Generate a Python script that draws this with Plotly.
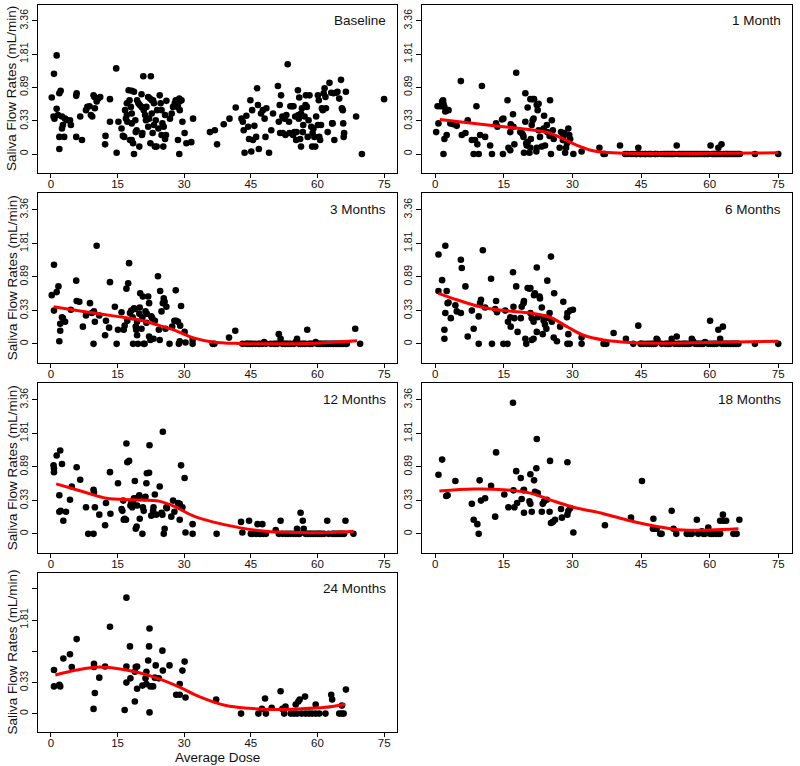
import numpy as np
import plotly.graph_objects as go

# ---------------- data (flow rate in mL/min vs average dose) ----------------
panel_names = ["Baseline", "1 Month", "3 Months", "6 Months", "12 Months", "18 Months", "24 Months"]
dose_ticks = [0, 15, 30, 45, 60, 75]
flow_ticks = [0, 0.33, 0.89, 1.81, 3.36]
flow_labels = ["0", "0.33", "0.89", "1.81", "3.36"]
flow_labels_24 = ["0", "0.33", "", "1.81", ""]

base_x = [0.2,0.7,1.3,0.6,0.8,1.3,1.6,1.9,2.2,1.9,1.9,2.5,2.5,2.7,3.0,3.2,3.7,4.3,4.5,5.7,5.8,5.7,6.6,7.0,7.9,8.2,8.7,9.0,9.3,9.6,9.8,9.9,10.3,10.7,11.1,12.3,12.2,
          13.3,13.3,14.7,14.8,15.2,15.9,16.2,16.5,16.7,16.9,17.1,17.1,17.2,17.5,18.2,18.7,17.7,18.0,18.2,18.2,17.8,18.2,18.5,18.7,19.0,19.1,19.3,19.4,19.7,19.9,20.0,20.4,20.4,20.6,20.5,20.9,21.2,21.4,21.5,20.8,22.5,21.9,22.3,22.7,23.0,23.2,21.9,22.1,22.4,22.7,22.9,23.2,23.4,23.6,23.8,23.9,24.2,24.5,24.7,24.9,24.9,25.1,25.3,25.4,25.7,25.7,25.9,26.0,26.8,27.2,27.5,27.9,28.1,28.3,28.6,28.9,29.0,29.4,29.0,28.6,28.9,29.6,30.1,30.5,31.6,32.0,
          35.8,36.9,37.4,38.9,40.2,41.6,42.9,43.2,43.4,43.6,44.0,44.4,44.6,44.9,45.1,45.3,45.5,45.8,46.2,46.4,46.6,46.8,47.3,47.7,48.1,48.3,48.5,49.1,49.6,50.0,51.1,51.3,51.5,51.6,51.8,52.1,52.2,52.6,52.8,53.0,53.3,53.6,
          53.7,53.9,54.3,54.5,54.6,54.8,55.0,55.2,55.3,55.6,55.7,55.8,55.9,56.1,56.3,56.3,56.5,56.7,56.8,57.1,57.3,57.4,57.6,57.8,58.0,58.2,58.6,58.8,58.9,59.1,59.3,59.5,59.7,60.1,60.1,60.3,60.4,60.6,60.8,61.0,61.2,61.4,61.6,61.8,61.9,62.3,62.7,63.1,63.3,63.4,63.6,63.8,64.2,64.5,64.9,65.3,65.5,65.7,65.8,65.9,66.0,66.4,68.7,70.0,75.0]
base_y = [0.69,1.21,1.77,0.39,0.36,0.50,0.41,0.77,0.82,0.15,0.04,0.39,0.24,0.28,0.15,0.36,0.34,0.34,0.28,0.72,0.77,0.15,0.39,0.12,0.48,0.53,0.54,0.41,0.39,0.73,0.70,0.51,0.62,0.67,0.70,0.16,0.08,
          0.66,0.32,1.36,0.01,0.32,0.24,0.16,0.15,0.48,0.36,0.41,0.59,0.32,0.83,0.82,0.80,0.64,0.53,0.43,0.30,0.12,0.12,0.09,0.00,0.34,0.20,0.22,0.64,0.59,0.06,0.56,0.53,0.75,0.19,0.17,0.48,0.41,0.34,0.53,1.15,1.15,0.70,0.67,0.64,0.64,0.59,0.26,0.36,0.09,0.43,0.19,0.28,0.06,0.34,0.06,0.48,0.24,0.73,0.59,0.48,0.17,0.30,0.06,0.26,0.41,0.13,0.17,0.63,0.36,0.43,0.53,0.59,0.64,0.54,0.53,0.67,0.62,0.64,0.48,0.12,0.00,0.32,0.19,0.09,0.10,0.36,
          0.20,0.22,0.08,0.29,0.36,0.52,0.36,0.32,0.22,0.01,0.40,0.26,0.13,0.64,0.02,0.48,0.12,0.27,0.15,0.87,0.56,0.04,0.43,0.48,0.36,0.15,0.51,0.01,0.22,0.43,0.92,0.32,0.56,0.19,0.73,0.39,0.19,0.36,0.17,0.41,1.48,0.32,
          0.19,0.54,0.54,0.17,0.54,0.20,0.39,0.12,0.20,0.83,0.41,0.36,0.69,0.13,0.43,0.06,0.51,0.20,0.28,0.39,0.56,0.73,0.53,0.15,0.34,0.73,0.26,0.06,0.19,0.24,0.15,0.06,0.39,0.73,0.28,0.64,0.15,0.12,0.28,0.51,0.48,0.77,0.87,0.70,0.51,0.20,0.99,0.78,0.30,0.30,0.77,0.12,0.78,0.80,0.67,1.06,0.51,0.48,0.30,0.15,0.19,0.80,0.39,0.00,0.66]

m1_x = [0.2,0.7,0.5,1.1,1.5,1.7,1.8,2.0,2.2,2.5,2.9,1.8,2.0,2.5,3.3,4.0,4.7,5.6,5.8,6.6,7.1,8.0,8.7,8.4,9.5,9.0,9.2,9.8,10.2,10.9,12.0,12.4,13.3,13.6,14.6,14.9,14.8,15.8,16.0,16.4,16.4,16.5,17.0,17.1,17.3,17.7,18.6,18.9,19.2,19.3,19.4,19.7,19.7,19.9,20.0,20.2,20.2,20.6,20.8,20.8,21.3,21.6,20.9,21.1,21.3,21.5,22.1,22.2,22.2,22.4,22.6,22.6,22.9,23.3,23.7,23.8,24.0,24.4,24.5,25.0,25.1,25.3,25.5,25.7,25.9,27.2,27.5,27.9,28.0,28.2,28.4,28.6,28.8,29.1,29.3,29.5,30.2,32.0,35.9,36.8,37.1,40.4,41.5,
        42.0,42.8,43.3,43.9,44.4,44.8,45.4,45.9,46.6,47.3,48.1,48.6,49.5,50.3,51.0,51.7,52.4,52.8,53.2,53.9,54.6,55.4,56.1,56.8,57.5,58.3,59.0,59.7,60.2,60.8,61.4,61.9,62.4,62.6,63.0,63.7,64.4,65.2,65.9,66.3,69.9,75.0,
        44.0,45.0,46.0,47.0,48.0,50.0,50.7,51.4,52.0,53.5,54.2,55.0,55.8,56.5,57.2,57.9,58.7,59.4,60.5,61.1,61.7,62.2,63.4,64.0,64.8,65.5,66.6]
m1_y = [0.20,0.30,0.54,0.54,0.62,0.64,0.58,0.53,0.46,0.48,0.48,0.00,0.13,0.17,0.30,0.29,0.27,1.03,0.17,0.19,0.34,0.12,0.12,0.00,0.00,0.54,0.08,0.17,0.92,0.15,0.07,0.00,0.30,0.26,0.35,0.36,0.00,0.64,0.05,0.03,0.20,0.29,0.42,0.26,0.08,1.24,0.20,0.19,0.17,0.15,0.01,0.77,0.32,0.09,0.07,0.10,0.52,0.01,0.05,0.66,0.66,0.66,0.13,0.28,0.34,0.36,0.02,0.05,0.56,0.48,0.58,0.22,0.15,0.06,0.24,0.40,0.07,0.28,0.20,0.16,0.64,0.00,0.34,0.22,0.13,0.05,0.20,0.12,0.15,0.19,0.01,0.05,0.09,0.24,0.17,0.13,0.00,0.02,0.05,0.00,0.00,0.07,0.00,
        0,0,0,0,0.05,0,0,0,0,0,0,0,0,0,0,0,0,0.07,0,0,0,0,0,0,0,0,0,0,0.07,0,0,0.05,0,0.08,0,0,0,0,0,0,0,0,
        0,0,0,0,0,0,0,0,0,0,0,0,0,0,0,0,0,0,0,0,0,0,0,0,0,0,0]
m1_fit_x = [1, 10, 15, 20, 25, 28, 31, 34, 37, 42, 50, 60, 70, 75]
m1_fit_y = [0.35, 0.29, 0.26, 0.23, 0.19, 0.13, 0.07, 0.03, 0.013, 0.005, 0.003, 0.005, 0.008, 0.01]

m3_x = [0.2,0.7,0.7,1.3,1.7,1.9,2.1,2.1,2.5,2.7,3.2,4.5,5.7,5.8,6.4,7.2,7.9,8.8,9.2,9.7,9.6,9.9,10.3,10.9,12.2,12.4,13.1,13.3,14.4,14.8,15.1,15.9,16.4,16.6,17.0,17.4,17.2,17.6,17.8,18.1,18.4,18.5,18.7,18.9,19.1,19.2,19.4,19.4,19.6,19.9,20.0,20.1,20.4,20.6,20.7,20.9,21.1,21.3,21.5,21.6,21.9,22.1,22.1,22.4,22.6,22.8,23.1,23.4,24.1,24.3,24.5,24.6,24.9,25.2,25.4,25.6,25.8,26.0,26.7,27.3,27.8,28.1,28.2,28.6,28.8,29.0,29.3,29.1,30.1,30.3,31.9,31.9,36.4,36.8,40.1,41.5,
        43.1,43.9,44.6,45.4,46.7,47.6,48.4,48.0,49.5,50.2,51.0,51.3,51.7,52.1,52.8,53.6,54.0,54.7,55.1,55.4,55.8,56.6,57.3,57.7,58.1,58.8,59.6,59.9,60.3,61.0,61.8,62.5,63.3,64.0,64.8,65.5,66.3,68.5,69.6,
        44.2,45.0,46.0,47.0,50.6,52.5,53.2,56.2,57.0,58.4,60.6,61.4,62.1,62.9,63.6,64.4,65.1,65.9,66.6]
m3_y = [0.55,1.17,0.33,0.60,0.70,0.02,0.11,0.18,0.25,0.24,0.20,0.34,0.81,0.46,0.45,0.15,0.27,0.43,0.30,0.32,0.00,0.20,1.73,0.27,0.07,0.21,0.14,0.78,0.38,0.00,0.12,0.31,0.12,0.16,0.66,0.76,0.21,1.21,0.30,0.33,0.25,0.00,0.36,0.35,0.15,0.12,0.20,0.07,0.00,0.29,0.37,0.58,0.13,0.25,0.53,0.00,0.00,0.32,0.19,0.29,0.53,0.43,0.06,0.03,0.26,0.24,0.04,0.21,0.90,0.12,0.03,0.62,0.32,0.43,0.50,0.45,0.13,0.38,0.00,0.15,0.21,0.63,0.21,0.20,0.00,0.02,0.39,0.16,0.10,0.01,0.03,0.00,0.00,0.00,0.05,0.11,
        0,0,0,0,0,0,0,0.015,0,0,0,0.08,0.04,0,0,0,0,0,0.015,0.04,0,0,0,0.12,0,0,0.015,0,0,0,0,0,0,0,0,0,0,0.13,0,
        0,0,0,0,0,0,0,0,0,0,0,0,0,0,0,0,0,0,0]
m3_fit_x = [0.6, 7.3, 14.8, 20.0, 24.5, 28.2, 31.9, 36.4, 42.4, 48.4, 59.6, 68.9]
m3_fit_y = [0.38, 0.32, 0.26, 0.22, 0.16, 0.11, 0.05, 0.015, 0.003, 0.001, 0.005, 0.024]

m6_x = [0.7,0.7,1.5,2.0,2.0,2.2,2.5,2.2,2.7,2.9,3.4,4.4,4.7,5.6,5.6,5.8,6.6,7.1,8.0,8.4,9.5,9.5,9.8,10.0,10.4,10.9,12.2,12.4,13.1,13.3,13.5,14.9,15.8,15.3,15.9,16.4,16.5,17.0,17.1,17.3,17.7,18.0,18.7,18.9,19.3,19.4,19.7,19.9,20.2,20.6,20.8,20.8,21.1,21.1,21.5,21.5,21.6,21.8,22.2,22.2,22.4,22.8,22.9,23.3,23.5,23.7,23.8,24.0,24.3,24.5,24.8,25.0,25.3,25.5,25.9,26.0,26.6,27.3,28.0,28.8,28.9,28.9,29.4,29.1,29.5,30.1,32.0,32.0,36.8,37.4,39.0,41.7,
        43.3,44.4,44.9,45.5,46.2,47.3,48.1,48.4,48.6,49.5,50.3,51.0,51.7,52.4,52.8,53.5,54.1,54.8,55.7,56.1,56.4,57.2,57.9,58.6,59.0,59.7,60.1,60.2,60.7,61.5,61.9,62.3,62.9,63.0,63.7,64.5,65.2,65.9,69.9,75.0,
        45.0,46.8,47.7,50.7,51.4,53.1,54.5,55.3,56.8,57.6,58.3,61.1,62.6,63.4,64.1,64.9,65.6,66.3]
m6_y = [1.45,0.62,0.82,0.04,0.12,1.73,0.62,0.30,0.43,0.44,0.24,0.40,0.32,0.30,1.30,1.09,0.70,0.06,0.33,0.13,0.00,0.26,0.43,0.48,1.58,0.37,0.85,0.00,0.35,0.46,0.31,0.00,0.00,0.33,0.20,0.25,0.15,0.99,0.38,0.24,0.70,0.10,0.24,0.38,0.43,0.46,0.04,0.00,0.67,0.66,0.67,0.30,0.24,0.03,0.04,0.20,0.55,0.58,1.10,0.10,0.25,0.53,0.50,0.37,0.08,0.21,0.25,0.17,0.13,0.81,0.24,0.30,1.39,0.20,0.05,0.58,0.02,0.15,0.45,0.25,0.30,0.00,0.00,0.08,0.33,0.34,0.05,0.00,0.00,0.00,0.09,0.04,
        0,0.16,0,0,0,0,0,0.04,0.03,0,0,0,0.04,0,0.06,0,0,0,0,0.04,0.02,0,0,0,0.015,0,0.21,0,0,0,0.12,0.04,0.15,0,0,0,0,0,0,0,
        0,0,0,0,0,0,0,0,0,0,0,0,0,0,0,0,0,0]
m6_fit_x = [0.7, 4.7, 9.8, 14.9, 20.8, 25.1, 28.8, 32.4, 36.8, 42.6, 48.4, 59.4, 75.0]
m6_fit_y = [0.58, 0.48, 0.38, 0.33, 0.30, 0.25, 0.15, 0.07, 0.03, 0.01, 0.005, 0.01, 0.02]

m12_x = [0.6,0.7,0.7,1.3,2.1,1.9,1.9,2.2,2.5,2.8,3.4,4.3,4.7,5.8,6.6,7.9,8.4,9.6,9.6,9.7,9.9,10.9,12.2,12.4,13.3,13.4,15.1,15.9,16.1,16.3,16.4,16.6,16.9,17.0,17.2,17.6,17.9,18.1,18.3,18.5,18.7,18.9,19.1,19.3,19.4,19.6,19.9,20.0,20.6,20.7,20.9,21.1,21.3,21.5,21.6,22.1,22.2,22.6,23.0,23.1,23.4,23.7,24.5,24.9,25.1,25.2,25.4,25.6,26.0,26.1,27.1,27.5,27.8,28.6,29.0,29.0,29.3,29.6,30.1,30.3,31.9,31.9,37.3,42.8,43.1,44.6,45.0,45.4,46.5,46.9,47.6,47.8,48.4,50.6,51.7,
         51.3,52.1,52.8,54.0,55.1,55.4,55.8,56.2,56.7,56.9,57.3,58.1,58.8,59.6,60.3,61.0,62.2,62.5,63.3,64.0,64.8,65.5,66.3,68.1,
         46.2,47.2,53.4,54.6,56.0,57.7,58.4,59.2,60.0,60.6,61.5,63.6,64.4,65.2,66.0]
m12_y = [0.92,0.86,0.78,1.15,1.28,0.40,0.20,0.21,0.95,0.11,0.20,0.34,0.53,0.88,0.64,0.25,0.00,0.00,0.48,0.44,0.25,0.17,0.07,0.30,0.78,0.18,0.58,0.23,0.21,0.33,0.12,0.13,0.12,1.48,0.99,1.02,0.27,0.30,0.25,0.32,0.36,0.62,0.04,0.06,0.27,0.37,0.40,0.13,0.00,0.25,0.21,0.36,0.38,0.58,0.76,0.77,1.43,0.16,0.21,0.25,0.41,0.17,0.53,0.19,0.17,1.87,0.00,0.04,0.25,0.24,0.15,0.33,0.20,0.30,0.29,0.12,0.92,0.25,0.67,0.01,0.08,0.00,0.00,0.10,0.01,0.11,0,0,0.08,0,0.08,0,0,0.03,0.11,
         0,0,0,0,0,0.04,0,0.19,0.11,0.04,0,0,0,0,0,0,0.11,0,0,0,0,0,0.11,0,
         0,0,0,0,0,0,0,0,0,0,0,0,0,0,0]
m12_fit_x = [1.2, 7.3, 12.5, 18.5, 24.5, 28.2, 31.9, 36.4, 42.4, 48.4, 55.8, 63.3, 68.1]
m12_fit_y = [0.57, 0.45, 0.36, 0.34, 0.32, 0.25, 0.16, 0.10, 0.05, 0.02, 0.01, 0.01, 0.02]

m18_x = [0.7,1.5,2.4,2.7,4.4,8.0,8.4,9.2,9.5,9.7,10.0,10.9,12.2,13.1,13.3,15.1,16.0,17.0,17.1,17.3,17.7,17.9,18.7,18.9,19.3,19.4,19.4,20.6,20.8,20.8,21.1,21.6,22.1,22.2,21.8,22.4,23.3,23.5,23.8,24.4,25.0,25.1,25.3,25.7,26.2,27.5,27.7,28.9,28.9,29.1,29.5,30.2,37.1,42.8,45.2,47.7,47.6,48.1,48.4,49.2,49.5,51.7,52.1,52.7,
         55.0,55.7,56.1,57.2,57.5,58.3,58.6,59.0,59.7,60.1,60.5,60.8,61.4,61.9,62.3,62.3,62.9,63.0,63.6,65.2,65.9,66.5]
m18_y = [0.73,1.05,0.39,0.40,0.62,0.29,0.12,0.08,0.00,0.63,0.33,0.36,0.54,0.15,1.23,0.41,0.25,3.19,0.47,0.25,0.80,0.30,0.67,0.35,0.47,0.48,0.19,0.32,0.29,0.74,0.20,0.63,0.86,1.62,0.45,0.43,0.20,0.29,0.32,0.34,0.20,1.02,0.09,0.10,0.12,0.23,0.14,0.99,0.17,0.21,0.24,0.01,0.07,0.14,0.62,0.13,0.04,0.04,0.04,0,0,0.21,0.04,0,
         0,0,0,0.12,0,0.02,0,0,0.05,0,0,0,0,0,0,0.11,0.17,0.11,0.11,0,0,0.12]
m18_fit_x = [0.9, 8.4, 14.9, 20.8, 25.1, 30.2, 36.8, 42.6, 48.4, 54.3, 60.1, 66.3]
m18_fit_y = [0.46, 0.49, 0.48, 0.43, 0.34, 0.25, 0.18, 0.11, 0.06, 0.03, 0.03, 0.04]

m24_x = [0.7,0.7,1.9,2.1,2.8,4.3,4.7,5.8,9.6,9.7,9.7,9.9,10.9,12.2,13.3,16.6,17.0,17.0,17.0,17.8,17.9,18.9,19.1,19.4,18.9,19.4,20.6,21.5,21.3,21.5,21.9,22.1,22.2,22.2,22.4,23.0,23.4,23.6,24.3,25.1,25.2,26.7,28.2,29.0,29.0,29.6,30.1,30.3,37.2,42.8,46.7,47.5,48.2,48.4,49.7,51.7,52.1,52.5,52.8,
         54.0,54.7,55.1,55.4,55.7,56.0,56.4,57.2,57.3,58.1,58.8,59.6,59.6,60.4,61.8,63.1,63.3,64.9,65.5,65.5,65.9,66.4]
m24_y = [0.52,0.28,0.30,0.28,0.73,0.82,0.57,1.19,0.04,0.63,0.57,0.20,0.40,0.58,1.57,0.03,2.83,0.58,0.33,1.00,0.39,0.49,0.57,0.58,0.11,0.25,0.29,0.31,0.39,0.49,0.69,1.00,1.51,0.01,0.28,0.28,0.40,0.60,0.39,0.90,0.51,0.60,0.18,0.18,0.31,0.51,0.67,0.15,0.13,0,0,0.04,0.14,0,0.05,0.22,0.04,0,0.06,
         0,0,0.08,0,0.11,0.13,0,0.16,0,0,0,0,0.08,0,0,0.18,0.13,0,0,0.07,0,0.24]
m24_fit_x = [1.0, 5.8, 11.0, 17.0, 22.2, 28.2, 33.4, 39.4, 44.6, 49.9, 55.8, 61.8, 66.3]
m24_fit_y = [0.44, 0.52, 0.57, 0.52, 0.43, 0.29, 0.16, 0.07, 0.045, 0.035, 0.04, 0.054, 0.083]

# ---------------- figure ----------------
def tr(v):
    """Axis transform used by the chart: log(1 + 2*flow)."""
    return np.log1p(2 * np.asarray(v, dtype=float))

panels = [
    (panel_names[0], base_x, base_y, None, None),
    (panel_names[1], m1_x, m1_y, m1_fit_x, m1_fit_y),
    (panel_names[2], m3_x, m3_y, m3_fit_x, m3_fit_y),
    (panel_names[3], m6_x, m6_y, m6_fit_x, m6_fit_y),
    (panel_names[4], m12_x, m12_y, m12_fit_x, m12_fit_y),
    (panel_names[5], m18_x, m18_y, m18_fit_x, m18_fit_y),
    (panel_names[6], m24_x, m24_y, m24_fit_x, m24_fit_y),
]

W, H = 800, 766
col_px = [(38, 397), (422, 791.5)]
row_px = [(4.5, 173.3), (193.3, 363.3), (383.3, 553.3), (573.3, 731.7)]

FONT = "Liberation Sans, Arial, Helvetica, sans-serif"
fig = go.Figure()
layout = dict(
    width=W, height=H, margin=dict(l=0, r=0, t=0, b=0, autoexpand=False),
    plot_bgcolor="white", paper_bgcolor="white", showlegend=False,
    font=dict(family=FONT, color="black"),
)
annotations = []

for i, (name, px, py, fx, fy) in enumerate(panels):
    n = i + 1
    r, c = divmod(i, 2)
    xs = "" if n == 1 else str(n)
    x0, x1 = col_px[c]
    y0, y1 = row_px[r]
    fig.add_trace(go.Scatter(
        x=px, y=tr(py), mode="markers", xaxis="x" + xs, yaxis="y" + xs,
        marker=dict(color="black", size=6.6, line=dict(width=0)), hoverinfo="skip"))
    if fx is not None:
        fig.add_trace(go.Scatter(
            x=fx, y=tr(fy), mode="lines", xaxis="x" + xs, yaxis="y" + xs,
            line=dict(color="#ff0000", width=3, shape="spline", smoothing=1.0), hoverinfo="skip"))
    layout["xaxis" + xs] = dict(
        domain=[x0 / W, x1 / W], anchor="y" + xs, range=[-2.9, 77.9], automargin=False,
        tickvals=dose_ticks, ticktext=[str(t) for t in dose_ticks],
        ticks="outside", ticklen=4, tickwidth=1, tickcolor="black", ticklabelstandoff=-4,
        showline=True, linecolor="black", linewidth=1.2, mirror=True,
        showgrid=False, zeroline=False, tickfont=dict(size=11.5, family=FONT, color="#111"))
    layout["yaxis" + xs] = dict(
        domain=[1 - y1 / H, 1 - y0 / H], anchor="x" + xs, range=[-0.296, 2.294], automargin=False,
        tickvals=list(tr(flow_ticks)),
        ticktext=flow_labels_24 if n == 7 else flow_labels,
        tickangle=-90, ticks="outside", ticklen=5, tickwidth=1, tickcolor="black",
        showline=True, linecolor="black", linewidth=1.2, mirror=True,
        showgrid=False, zeroline=False, tickfont=dict(size=10.5, family=FONT, color="#111"))
    annotations.append(dict(
        text=name, xref="x" + xs + " domain", yref="y" + xs, x=1, y=float(tr(3.36)),
        xanchor="right", yanchor="middle", xshift=-9, showarrow=False,
        font=dict(size=13.5, family=FONT, color="#111")))
    if c == 0:
        annotations.append(dict(
            text="Saliva Flow Rates (mL/min)", xref="paper", yref="paper",
            x=12 / W, y=1 - (y0 + y1) / 2 / H, xanchor="center", yanchor="middle",
            textangle=-90, showarrow=False, font=dict(size=13.5, family=FONT, color="#111")))

annotations.append(dict(
    text="Average Dose", xref="paper", yref="paper", x=(38 + 397) / 2 / W, y=1 - 757.5 / H,
    xanchor="center", yanchor="middle", showarrow=False,
    font=dict(size=13.5, family=FONT, color="#111")))

layout["annotations"] = annotations
fig.update_layout(**layout)
fig.write_html(
    "out.html",
    config={"displayModeBar": False},
    post_script="document.body.style.margin='0';document.body.style.padding='0';"
                "document.documentElement.style.overflow='hidden';",
)
